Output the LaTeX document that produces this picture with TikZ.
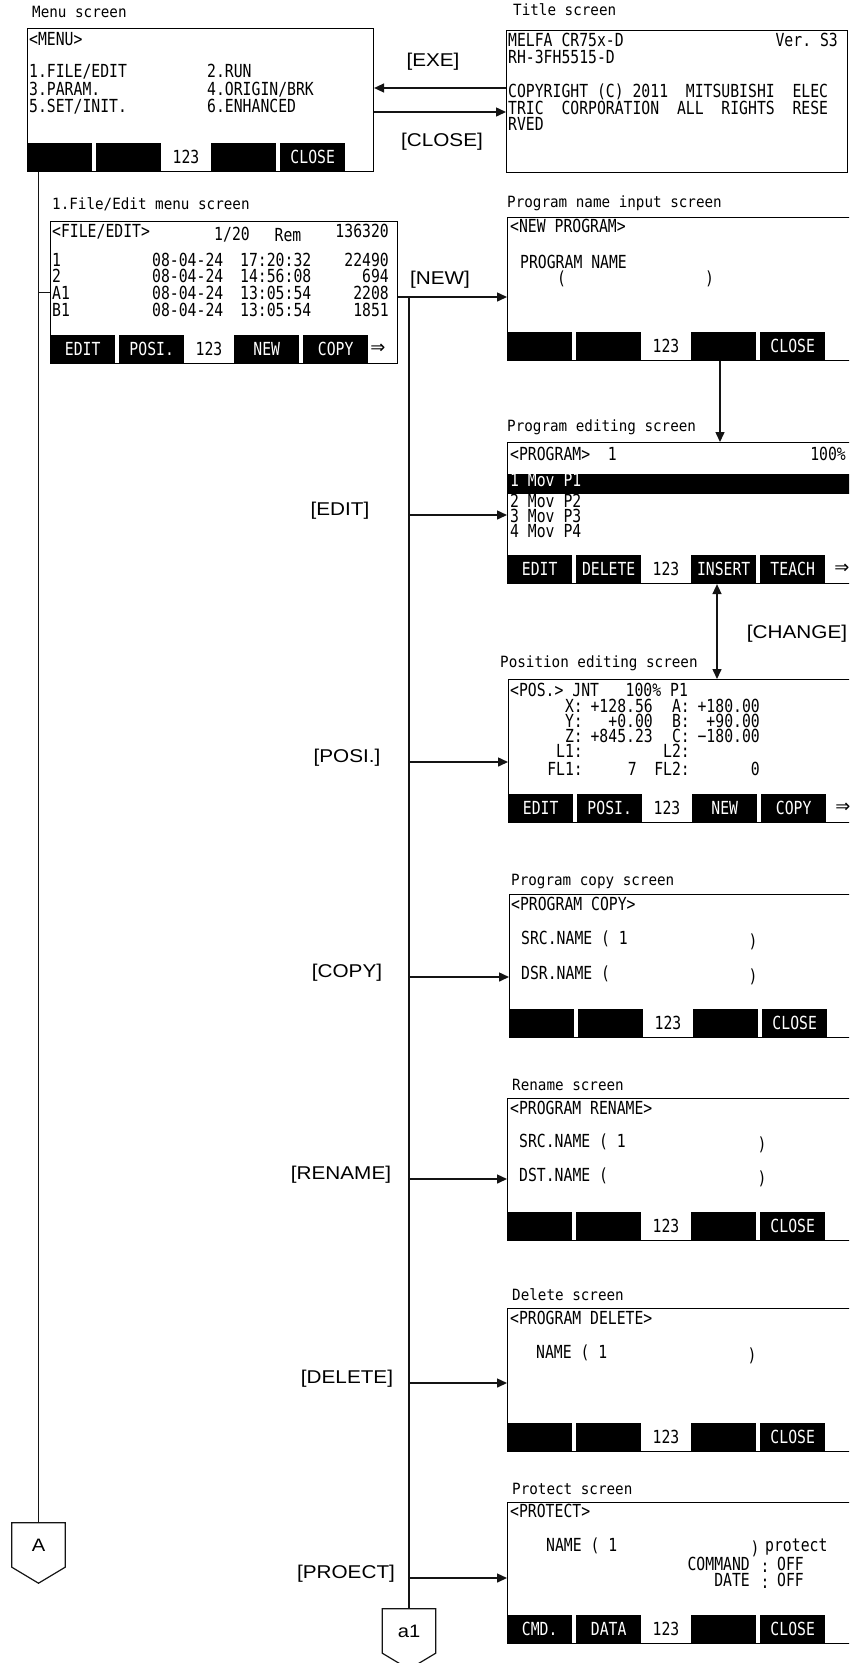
\documentclass[tikz,border=0pt]{standalone}
\usepackage{fontspec}
\usepackage{tikz}
\usetikzlibrary{arrows.meta, positioning, calc}
\newfontfamily\scrfont[FakeStretch=0.82]{DejaVu Sans Mono}
\newfontfamily\lblfont[FakeStretch=0.92]{DejaVu Sans Mono}
\newfontfamily\btnfont[FakeStretch=1.12]{Liberation Sans}
\newfontfamily\symfont{DejaVu Sans}
\definecolor{lcdink}{RGB}{0,0,0}
\definecolor{lcdpaper}{RGB}{255,255,255}
\definecolor{flowline}{RGB}{20,20,20}
\tikzset{
  screen/.style={rectangle, draw=lcdink, fill=lcdpaper, line width=1.1pt,
    inner sep=0pt, anchor=north west},
  scrtxt/.style={font=\scrfont\fontsize{18}{18}\selectfont, text=lcdink,
    inner sep=0pt, anchor=mid west},
  scrtxtr/.style={scrtxt, anchor=mid east},
  invtxt/.style={scrtxt, text=lcdpaper},
  softkey/.style={rectangle, fill=lcdink, text=lcdpaper, minimum width=65pt,
    minimum height=29pt, inner sep=0pt, anchor=south west,
    font=\scrfont\fontsize{18}{18}\selectfont},
  caption/.style={font=\lblfont\fontsize{15.5}{16}\selectfont, inner sep=0pt,
    anchor=mid west},
  keyname/.style={font=\btnfont\fontsize{18.5}{19}\selectfont, inner sep=0pt},
  arrow/.style={-{Triangle[length=10pt,width=9pt]}, line width=1.5pt, color=flowline},
  dblarrow/.style={{Triangle[length=10pt,width=9pt]}-{Triangle[length=10pt,width=9pt]},
    line width=1.5pt, color=flowline},
  line/.style={line width=1.5pt, color=flowline},
  offpage/.style={rectangle, minimum width=53pt, minimum height=44pt,
    inner sep=0pt, font=\btnfont\fontsize{18}{18}\selectfont}
}
% soft key bar: screen, key1, key2, key4, key5, right mark, mark offset
\newcommand{\softbar}[7]{%
  \foreach \kx/\kl [count=\ki] in {0/{#2},69/{#3},184/{#4},253/{#5}}
    \node[softkey] (#1-k\ki) at ($(#1.south west)+(\kx,0)$) {\kl};
  \node[scrtxt, anchor=center] (#1-num) at ($(#1.south west)+(159,-15)$) {123};
  \node[scrtxt, anchor=center, font=\symfont\fontsize{18}{18}\selectfont]
    (#1-more) at ($(#1.south west)+(#7,-15)$) {#6};
}

\begin{document}
\begin{tikzpicture}[x=1pt, y=-1pt]
  \clip (0,0) rectangle (849,1663);
  \fill[lcdpaper] (0,0) rectangle (849,1663);

  % Menu screen
  \node[caption] (menu-cap) at (32,15) {Menu screen};
  \node[screen, minimum width=346pt, minimum height=143pt] (menu) at (27,28) {};
  \node[scrtxt] (menu-hd) at (29,43) {<MENU>};
  \node[scrtxt] (menu-i1) at (29,75) {1.FILE/EDIT};
  \node[scrtxt] (menu-i3) at (29,93) {3.PARAM.};
  \node[scrtxt] (menu-i5) at (29,110) {5.SET/INIT.};
  \node[scrtxt] (menu-i2) at (207,75) {2.RUN};
  \node[scrtxt] (menu-i4) at (207,93) {4.ORIGIN/BRK};
  \node[scrtxt] (menu-i6) at (207,110) {6.ENHANCED};
  \softbar{menu}{}{}{}{CLOSE}{}{340}

  % Title screen
  \node[caption] (title-cap) at (513,13) {Title screen};
  \node[screen, minimum width=341pt, minimum height=142pt] (title) at (506,30) {};
  \node[scrtxt] (title-t1) at (508,44) {MELFA CR75x-D};
  \node[scrtxtr] (title-ver) at (838,44) {Ver.~S3};
  \node[scrtxt] (title-t2) at (508,61) {RH-3FH5515-D};
  \node[scrtxt] (title-t3) at (508,95) {COPYRIGHT (C) 2011~~MITSUBISHI~~ELEC};
  \node[scrtxt] (title-t4) at (508,112) {TRIC~~CORPORATION~~ALL~~RIGHTS~~RESE};
  \node[scrtxt] (title-t5) at (508,128) {RVED};

  \coordinate (exe) at (0,88);
  \coordinate (cls) at (0,112);
  \draw[arrow] (title.west |- exe) -- (menu.east |- exe);
  \draw[arrow] (menu.east |- cls) -- (title.west |- cls);
  \node[keyname] (l-exe) at (433,62) {[EXE]};
  \node[keyname] (l-close) at (442,142) {[CLOSE]};

  % File/Edit menu screen
  \node[caption] (fedit-cap) at (52,207) {1.File/Edit menu screen};
  \node[screen, minimum width=347pt, minimum height=142pt] (fedit) at (50,221) {};
  \node[scrtxt] (fedit-hd) at (52,235) {<FILE/EDIT>};
  \node[scrtxt, anchor=center] (fedit-pg) at (232,235) {1/20};
  \node[scrtxt, anchor=center] (fedit-rem) at (288,235) {Rem};
  \node[scrtxtr] (fedit-free) at (389,235) {136320};
  \foreach \ry/\pn/\dt/\tm/\sz [count=\i] in
      {264/1/08-04-24/17:20:32/22490, 280/2/08-04-24/14:56:08/694,
       297/A1/08-04-24/13:05:54/2208, 314/B1/08-04-24/13:05:54/1851} {
    \node[scrtxt] (fedit-n\i) at (52,\ry) {\pn};
    \node[scrtxt] (fedit-d\i) at (152,\ry) {\dt};
    \node[scrtxt] (fedit-t\i) at (240,\ry) {\tm};
    \node[scrtxtr] (fedit-s\i) at (389,\ry) {\sz};
  }
  \softbar{fedit}{EDIT}{POSI.}{NEW}{COPY}{⇒}{328}

  % Program name input screen
  \node[caption] (pname-cap) at (507,205) {Program name input screen};
  \node[screen, minimum width=350pt, minimum height=143pt] (pname) at (507,217) {};
  \node[scrtxt] (pname-hd) at (510,230) {<NEW PROGRAM>};
  \node[scrtxt] (pname-t1) at (520,266) {PROGRAM NAME};
  \node[scrtxt] (pname-lp) at (557,282) {(};
  \node[scrtxt] (pname-rp) at (705,282) {)};
  \softbar{pname}{}{}{}{CLOSE}{}{340}

  % Program editing screen
  \node[caption] (pedit-cap) at (507,429) {Program editing screen};
  \node[screen, minimum width=350pt, minimum height=141pt] (pedit) at (507,442) {};
  \node[scrtxt] (pedit-hd) at (510,458) {<PROGRAM>~~1};
  \node[scrtxtr] (pedit-ovr) at (846,458) {100\%};
  \node[rectangle, fill=lcdink, minimum width=350pt, minimum height=20pt,
    inner sep=0pt, anchor=north west] (pedit-hl) at (507,474) {};
  \node[invtxt] (pedit-l1) at (510,484) {1 Mov P1};
  \node[scrtxt] (pedit-l2) at (510,505) {2 Mov P2};
  \node[scrtxt] (pedit-l3) at (510,520) {3 Mov P3};
  \node[scrtxt] (pedit-l4) at (510,535) {4 Mov P4};
  \softbar{pedit}{EDIT}{DELETE}{INSERT}{TEACH}{⇒}{335}

  % Position editing screen
  \node[caption] (pos-cap) at (500,665) {Position editing screen};
  \node[screen, minimum width=350pt, minimum height=143pt] (pos) at (508,679) {};
  \node[scrtxt] (pos-hd) at (510,694) {<POS.>~JNT~~~100\%~P1};
  \foreach \ry/\la/\va/\vx/\lb/\vb [count=\i] in
      {710/X:/+128.56/653/A:/+180.00, 725/Y:/+0.00/653/B:/+90.00,
       740/Z:/+845.23/653/C:/−180.00, 755/L1:/{}/653/L2:/{},
       773/FL1:/7/637/FL2:/0} {
    \node[scrtxtr] (pos-a\i) at (583,\ry) {\la};
    \node[scrtxtr] (pos-va\i) at (\vx,\ry) {\va};
    \node[scrtxtr] (pos-b\i) at (690,\ry) {\lb};
    \node[scrtxtr] (pos-vb\i) at (760,\ry) {\vb};
  }
  \softbar{pos}{EDIT}{POSI.}{NEW}{COPY}{⇒}{335}

  % Program copy screen
  \node[caption] (copy-cap) at (511,883) {Program copy screen};
  \node[screen, minimum width=350pt, minimum height=143pt] (copy) at (509,894) {};
  \node[scrtxt] (copy-hd) at (511,908) {<PROGRAM COPY>};
  \node[scrtxt] (copy-src) at (521,942) {SRC.NAME~(~1};
  \node[scrtxt, anchor=center] (copy-rp1) at (753,942) {)};
  \node[scrtxt] (copy-dst) at (521,977) {DSR.NAME~(};
  \node[scrtxt, anchor=center] (copy-rp2) at (753,977) {)};
  \softbar{copy}{}{}{}{CLOSE}{}{340}

  % Rename screen
  \node[caption] (rename-cap) at (512,1088) {Rename screen};
  \node[screen, minimum width=350pt, minimum height=142pt] (rename) at (507,1098) {};
  \node[scrtxt] (rename-hd) at (510,1112) {<PROGRAM RENAME>};
  \node[scrtxt] (rename-src) at (519,1145) {SRC.NAME~(~1};
  \node[scrtxt, anchor=center] (rename-rp1) at (762,1145) {)};
  \node[scrtxt] (rename-dst) at (519,1179) {DST.NAME~(};
  \node[scrtxt, anchor=center] (rename-rp2) at (762,1179) {)};
  \softbar{rename}{}{}{}{CLOSE}{}{340}

  % Delete screen
  \node[caption] (delete-cap) at (512,1298) {Delete screen};
  \node[screen, minimum width=350pt, minimum height=143pt] (delete) at (507,1308) {};
  \node[scrtxt] (delete-hd) at (510,1322) {<PROGRAM DELETE>};
  \node[scrtxt] (delete-nm) at (536,1356) {NAME~(~1};
  \node[scrtxt, anchor=center] (delete-rp) at (752,1356) {)};
  \softbar{delete}{}{}{}{CLOSE}{}{340}

  % Protect screen
  \node[caption] (protect-cap) at (512,1492) {Protect screen};
  \node[screen, minimum width=350pt, minimum height=141pt] (protect) at (507,1502) {};
  \node[scrtxt] (protect-hd) at (510,1515) {<PROTECT>};
  \node[scrtxt] (protect-nm) at (546,1549) {NAME~(~1};
  \node[scrtxt, anchor=center] (protect-rp) at (755,1549) {)};
  \node[scrtxt] (protect-pr) at (765,1549) {protect};
  \node[scrtxtr] (protect-cmd) at (750,1568) {COMMAND};
  \node[scrtxtr] (protect-dat) at (750,1584) {DATE};
  \node[scrtxt, anchor=center] (protect-c1) at (765,1568) {:};
  \node[scrtxt, anchor=center] (protect-c2) at (765,1584) {:};
  \node[scrtxt] (protect-o1) at (777,1568) {OFF};
  \node[scrtxt] (protect-o2) at (777,1584) {OFF};
  \softbar{protect}{CMD.}{DATA}{}{CLOSE}{}{340}

  % Off-page connectors
  \node[offpage] (conA) at (38.5,1545) {A};
  \draw[line, line width=1.2pt] (conA.north west) -- (conA.north east) -- (conA.south east)
    -- ($(conA.south)+(0,16)$) -- (conA.south west) -- cycle;
  \node[offpage] (cona1) at (409,1631) {a1};
  \draw[line, line width=1.2pt] (cona1.north west) -- (cona1.north east) -- (cona1.south east)
    -- ($(cona1.south)+(0,16)$) -- (cona1.south west) -- cycle;

  % Left trunk from the menu
  \draw[line] (menu.south -| conA.north) -- (conA.north);
  \draw[line] (conA.north |- fedit.west) -- (fedit.west);

  % Branch of the file/edit keys
  \coordinate (branch) at (409,297);
  \draw[arrow] (fedit.east |- branch) -- (pname.west |- branch);
  \node[keyname] (l-new) at (440,280) {[NEW]};
  \draw[line] (fedit.east |- branch) -- (branch) -- (cona1.north);
  \foreach \scr/\yy/\lx/\lbl in {pedit/515/340/EDIT, pos/762/347/POSI.,
      copy/977/347/COPY, rename/1179/341/RENAME, delete/1383/347/DELETE,
      protect/1578/346/PROECT} {
    \coordinate (k-\scr) at (409,\yy);
    \draw[arrow] (k-\scr) -- (\scr.west |- k-\scr);
    \node[keyname] (l-\scr) at (\lx,\yy-4) {[\lbl]};
  }

  % Between the editing screens
  \coordinate (down) at (720,0);
  \draw[arrow] (pname.south -| down) -- (pedit.north -| down);
  \coordinate (chg) at (717,0);
  \draw[dblarrow] (pedit.south -| chg) -- (pos.north -| chg);
  \node[keyname] (l-change) at (797,634) {[CHANGE]};
\end{tikzpicture}
\end{document}
